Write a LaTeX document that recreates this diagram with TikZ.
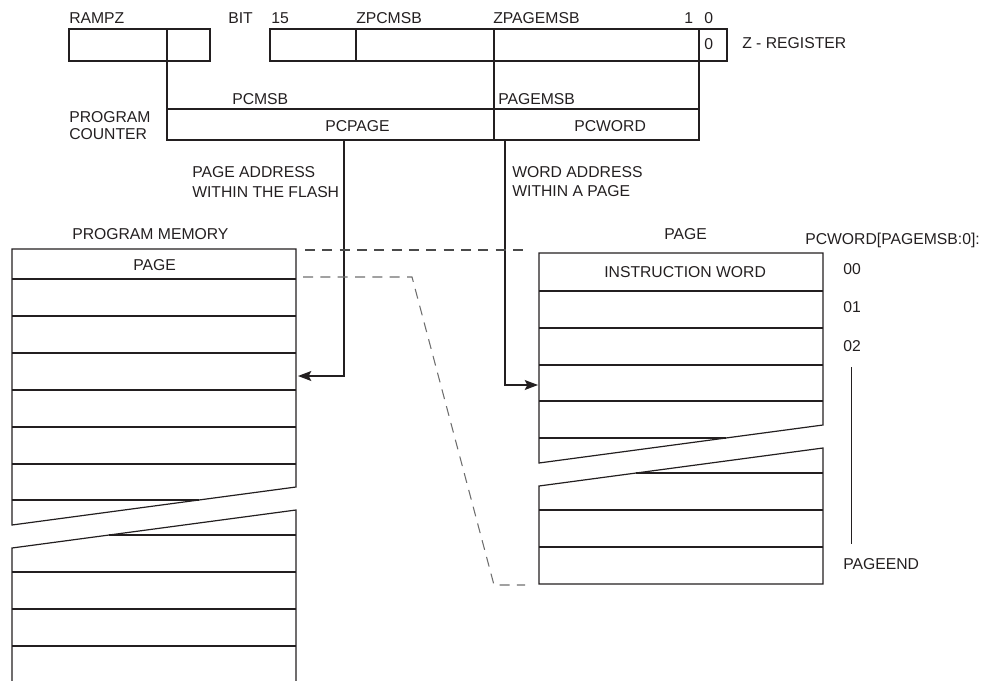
\documentclass[tikz,border=0pt]{standalone}
\usepackage{fontspec}
\setmainfont{Liberation Sans}
\usetikzlibrary{positioning,arrows.meta,fit}
\definecolor{lineInk}{HTML}{231F20}
\definecolor{dashInk}{HTML}{4A4A4A}
\definecolor{dashSoft}{HTML}{6E6E6E}

\tikzset{
  cell/.style={draw=lineInk, line width=0.9pt, inner sep=0pt, outer sep=0pt},
  lbl/.style={anchor=base west, inner sep=0pt, text=lineInk,
              font=\fontsize{11.8}{12.8}\selectfont},
  wire/.style={draw=lineInk, line width=0.9pt},
  arr/.style={wire, -{Stealth[length=10pt, width=7.5pt, inset=2pt]}},
  ghost/.style={draw=dashInk, line width=0.8pt, dash pattern=on 7.5pt off 5.5pt},
}

\begin{document}
\begin{tikzpicture}[x=0.75pt, y=-0.75pt]
  \useasboundingbox (0,0) rectangle (988,681);

  % RAMPZ and Z register
  \node[cell, fit={(69,29) (167,61)}] (rz1) {};
  \node[cell, fit={(167,29) (210,61)}] (rz2) {};
  \node[cell, fit={(270,29) (356,61)}] (zr1) {};
  \node[cell, fit={(356,29) (494,61)}] (zr2) {};
  \node[cell, fit={(494,29) (699,61)}] (zr3) {};
  \node[cell, fit={(699,29) (727,61)}] (zr4) {};

  \node[lbl] (lrampz) at (69,24) {RAMPZ};
  \node[lbl] (lbit) at (228,24) {BIT};
  \node[lbl] (lb15) at (271,24) {15};
  \node[lbl] (lzpcmsb) at (356,24) {ZPCMSB};
  \node[lbl] (lzpagemsb) at (493,24) {ZPAGEMSB};
  \node[lbl] (lb1) at (684,24) {1};
  \node[lbl] (lb0) at (704,24) {0};
  \node[lbl] (lzero) at (704,50) {0};
  \node[lbl] (lzreg) at (742,49) {Z - REGISTER};

  % program counter
  \node[cell, fit={(167,109) (494,140)}] (pcpage) {};
  \node[cell, fit={(494,109) (699,140)}] (pcword) {};
  \draw[wire] (rz2.south west) -- (pcpage.north west);
  \draw[wire] (zr3.south west) -- (pcword.north west);
  \draw[wire] (zr3.south east) -- (pcword.north east);

  \node[lbl] (lpcmsb) at (232,105) {PCMSB};
  \node[lbl] (lpagemsb) at (498,105) {PAGEMSB};
  \node[lbl] (lprog) at (69,123) {PROGRAM};
  \node[lbl] (lcount) at (69,140) {COUNTER};
  \node[lbl] (lpcpage) at (325,132) {PCPAGE};
  \node[lbl] (lpcword) at (574,132) {PCWORD};

  % address arrows
  \coordinate (pgsrc) at (344,140);
  \coordinate (pgdst) at (298,376);
  \coordinate (wdsrc) at (505,140);
  \coordinate (wddst) at (538,385);
  \draw[arr] (pgsrc) |- (pgdst);
  \draw[arr] (wdsrc) |- (wddst);
  \node[lbl] (lpga1) at (192,177) {PAGE ADDRESS};
  \node[lbl] (lpga2) at (192,197) {WITHIN THE FLASH};
  \node[lbl] (lwda1) at (512,177) {WORD ADDRESS};
  \node[lbl] (lwda2) at (512,196) {WITHIN A PAGE};

  % program memory
  \node[lbl] (lprogmem) at (72,239) {PROGRAM MEMORY};
  \node[lbl] (lmempage) at (133,270) {PAGE};
  \draw[wire] (12,525) -- (12,249) -- (296,249) -- (296,487) -- cycle;
  \foreach \y in {279,316,353,390,427,464}
    \draw[wire] (12,\y) -- (296,\y);
  \draw[wire] (12,500) -- (199,500);
  \draw[wire] (12,681) -- (12,548) -- (296,510) -- (296,681);
  \draw[wire] (109,535) -- (296,535);
  \foreach \y in {572,609,646}
    \draw[wire] (12,\y) -- (296,\y);

  % page
  \node[lbl] (lpage) at (664,239) {PAGE};
  \node[lbl] (linstr) at (604,277) {INSTRUCTION WORD};
  \draw[wire] (539,463) -- (539,253) -- (823,253) -- (823,425) -- cycle;
  \foreach \y in {291,328,365,401}
    \draw[wire] (539,\y) -- (823,\y);
  \draw[wire] (539,438) -- (726,438);
  \draw[wire] (539,486) -- (823,448) -- (823,584) -- (539,584) -- cycle;
  \draw[wire] (636,473) -- (823,473);
  \foreach \y in {510,547}
    \draw[wire] (539,\y) -- (823,\y);

  % word index
  \node[lbl] (lpcw) at (805,244) {PCWORD[PAGEMSB:0]:};
  \node[lbl] (l00) at (843,274) {00};
  \node[lbl] (l01) at (843,312) {01};
  \node[lbl] (l02) at (843,351) {02};
  \node[lbl] (lpgend) at (843,569) {PAGEEND};
  \draw[wire, line width=0.7pt] (851,367) -- (851,544);

  % dashed page outline
  \draw[ghost] (305,250) -- (523,250);
  \draw[ghost, draw=dashSoft] (303,277) -- (412,277) -- (494,585) -- (525,585);
\end{tikzpicture}
\end{document}
